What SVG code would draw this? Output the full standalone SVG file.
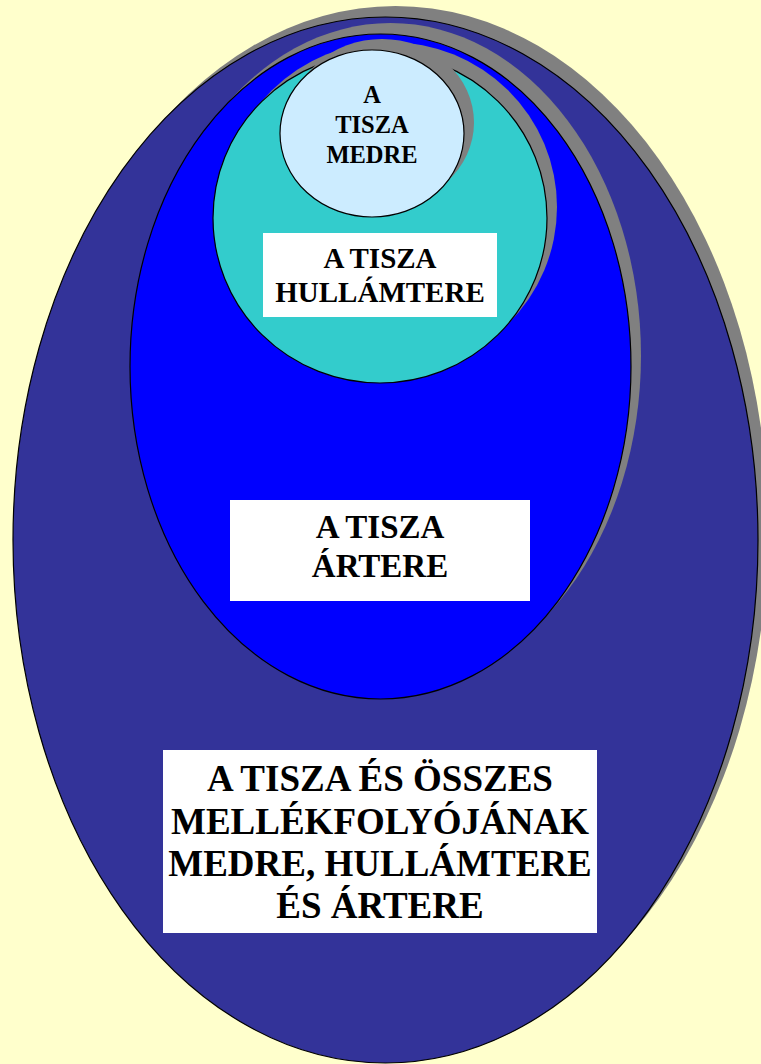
<svg xmlns="http://www.w3.org/2000/svg" width="761" height="1064" viewBox="0 0 761 1064">
<style>
.sh{fill:#808080;stroke:none}
.o{stroke:#000;stroke-width:1.2}
.box{fill:#fff;stroke:none}
text{font-family:"Liberation Serif","Times New Roman",serif;font-weight:bold;fill:#000;text-anchor:middle}
</style>
<rect width="761" height="1064" fill="#FFFFCC"/>
<g id="node-osszes">
<ellipse class="sh" cx="395.5" cy="529" rx="372.5" ry="523"/>
<ellipse class="o" cx="385.5" cy="540" rx="372.5" ry="523" fill="#333399"/>
</g>
<g id="node-artere">
<ellipse class="sh" cx="390.5" cy="355.5" rx="250.5" ry="332.5"/>
<ellipse class="o" cx="380.5" cy="366.5" rx="250.5" ry="332.5" fill="#0000FF"/>
</g>
<g id="node-hullamtere">
<ellipse class="sh" cx="390" cy="207" rx="167" ry="165"/>
<ellipse class="o" cx="380" cy="218" rx="167" ry="165" fill="#33CCCC"/>
</g>
<g id="node-medre">
<ellipse class="sh" cx="382" cy="122.5" rx="92" ry="83.5"/>
<ellipse class="o" cx="372" cy="133.5" rx="92" ry="83.5" fill="#CCECFF"/>
<text x="372" y="103" font-size="24.5">A</text>
<text x="372" y="133" font-size="24.5">TISZA</text>
<text x="372" y="163" font-size="24.5">MEDRE</text>
</g>
<g id="label-hullamtere">
<rect class="box" x="263" y="233" width="234" height="84"/>
<text x="380" y="268" font-size="29">A TISZA</text>
<text x="380" y="302" font-size="29">HULLÁMTERE</text>
</g>
<g id="label-artere">
<rect class="box" x="230" y="500" width="300" height="101"/>
<text x="380" y="538" font-size="33">A TISZA</text>
<text x="380" y="577" font-size="33">ÁRTERE</text>
</g>
<g id="label-osszes">
<rect class="box" x="163" y="750" width="434" height="183"/>
<text x="380" y="791" font-size="37">A TISZA ÉS ÖSSZES</text>
<text x="380" y="833.5" font-size="37">MELLÉKFOLYÓJÁNAK</text>
<text x="380" y="876" font-size="37">MEDRE, HULLÁMTERE</text>
<text x="380" y="918" font-size="37">ÉS ÁRTERE</text>
</g>
<g id="connectors"/>
</svg>
